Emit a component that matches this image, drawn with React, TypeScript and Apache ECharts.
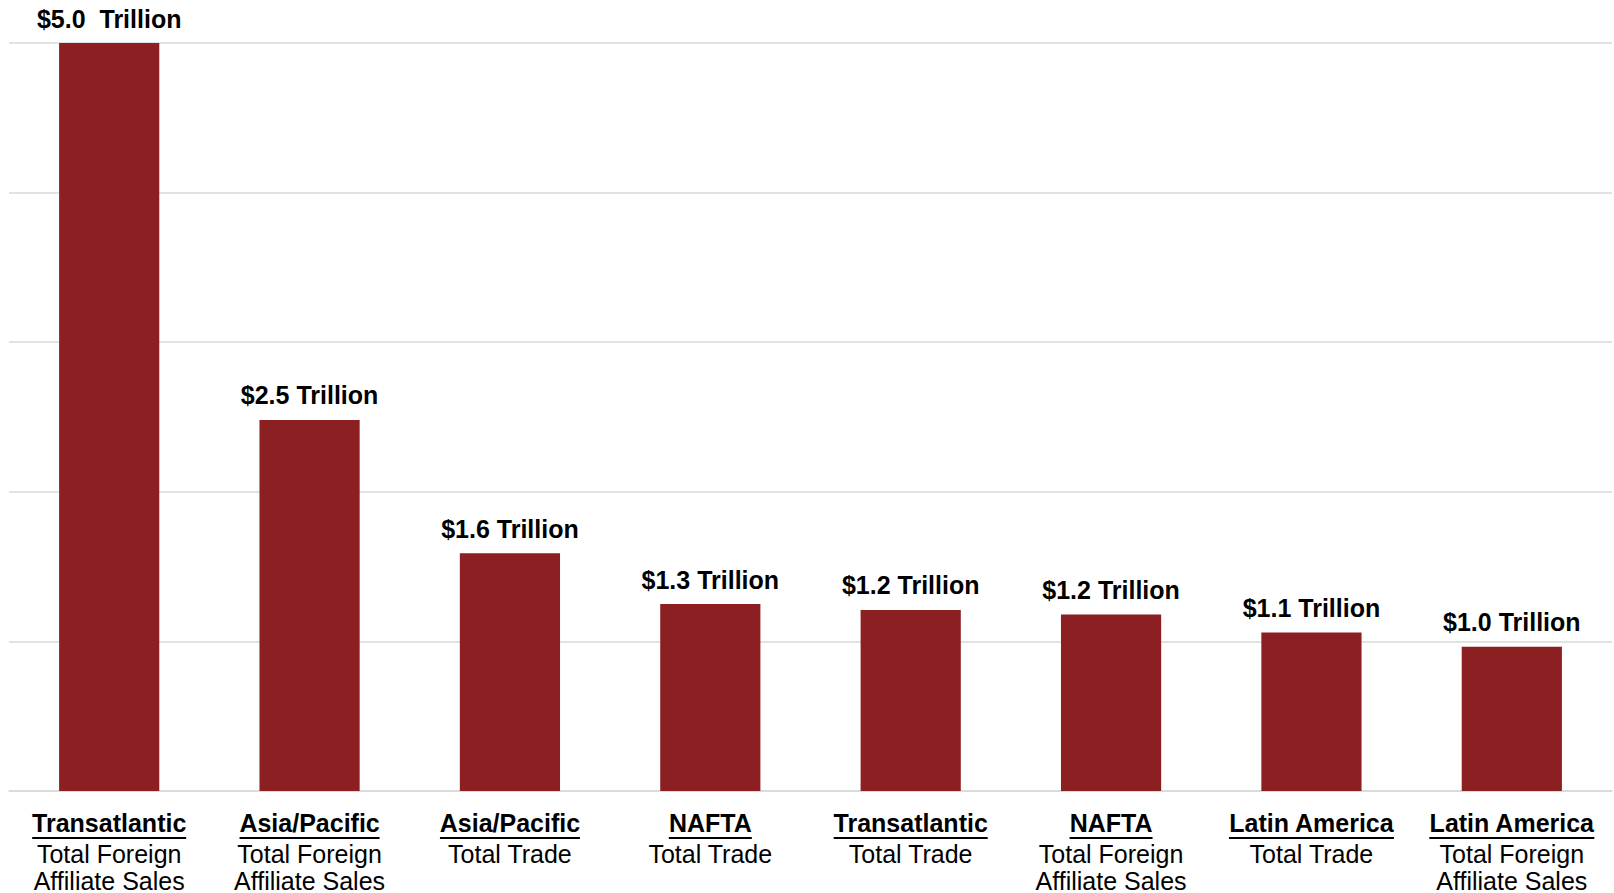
import React, { useEffect, useRef } from "react";
import * as echarts from "echarts";

const regions = [
  "Transatlantic",
  "Asia/Pacific",
  "Asia/Pacific",
  "NAFTA",
  "Transatlantic",
  "NAFTA",
  "Latin America",
  "Latin America",
];
const measures = [
  "Total Foreign\nAffiliate Sales",
  "Total Foreign\nAffiliate Sales",
  "Total Trade",
  "Total Trade",
  "Total Trade",
  "Total Foreign\nAffiliate Sales",
  "Total Trade",
  "Total Foreign\nAffiliate Sales",
];
const values = [5.0, 2.48, 1.59, 1.25, 1.21, 1.18, 1.06, 0.965];
const valueLabels = [
  "$5.0  Trillion",
  "$2.5 Trillion",
  "$1.6 Trillion",
  "$1.3 Trillion",
  "$1.2 Trillion",
  "$1.2 Trillion",
  "$1.1 Trillion",
  "$1.0 Trillion",
];

const FONT = "'Liberation Sans', Arial, sans-serif";

export default function App() {
  const ref = useRef<HTMLDivElement>(null);
  useEffect(() => {
    if (!ref.current) return;
    const chart = echarts.init(ref.current, null, { renderer: "svg" });
    const canvas = document.createElement("canvas");
    const ctx = canvas.getContext("2d")!;
    ctx.font = `bold 25px ${FONT}`;
    const rich: any = {
      t: { fontFamily: FONT, fontSize: 25, fontWeight: "bold", color: "#000", lineHeight: 26, align: "center" },
      s: { fontFamily: FONT, fontSize: 25, color: "#000", lineHeight: 27, align: "center" },
    };
    regions.forEach((r, i) => {
      rich["u" + i] = {
        width: Math.round(ctx.measureText(r).width),
        height: 2,
        lineHeight: 4,
        backgroundColor: "#000",
        align: "center",
        fontSize: 2,
      };
    });
    const categories = regions.map((r, i) => r + " " + measures[i].replace("\n", " "));
    chart.setOption({
      animation: false,
      backgroundColor: "#fff",
      grid: { left: 9, right: 2, top: 43, bottom: 100, containLabel: false },
      xAxis: {
        type: "category",
        data: categories,
        axisLine: { lineStyle: { color: "#d9d9d9", width: 1.5 } },
        axisTick: { show: false },
        axisLabel: {
          interval: 0,
          margin: 19,
          formatter: (_v: string, i: number) =>
            `{t|${regions[i]}}\n{u${i}| }\n` +
            measures[i]
              .split("\n")
              .map((m) => `{s|${m}}`)
              .join("\n"),
          rich,
        },
      },
      yAxis: {
        type: "value",
        min: 0,
        max: 5,
        interval: 1,
        axisLabel: { show: false },
        axisLine: { show: false },
        axisTick: { show: false },
        splitLine: { lineStyle: { color: "#d9d9d9", width: 1.5 } },
      },
      series: [
        {
          type: "bar",
          data: values,
          barWidth: "50%",
          itemStyle: { color: "#8B1F22" },
          label: {
            show: true,
            position: "top",
            distance: 12,
            fontFamily: FONT,
            fontSize: 25,
            fontWeight: "bold",
            color: "#000",
            formatter: (p: any) => valueLabels[p.dataIndex],
          },
        },
      ],
    });
    return () => chart.dispose();
  }, []);
  return (
    <div
      ref={ref}
      style={{ position: "absolute", left: 0, top: 0, width: 1614, height: 893 }}
    />
  );
}
